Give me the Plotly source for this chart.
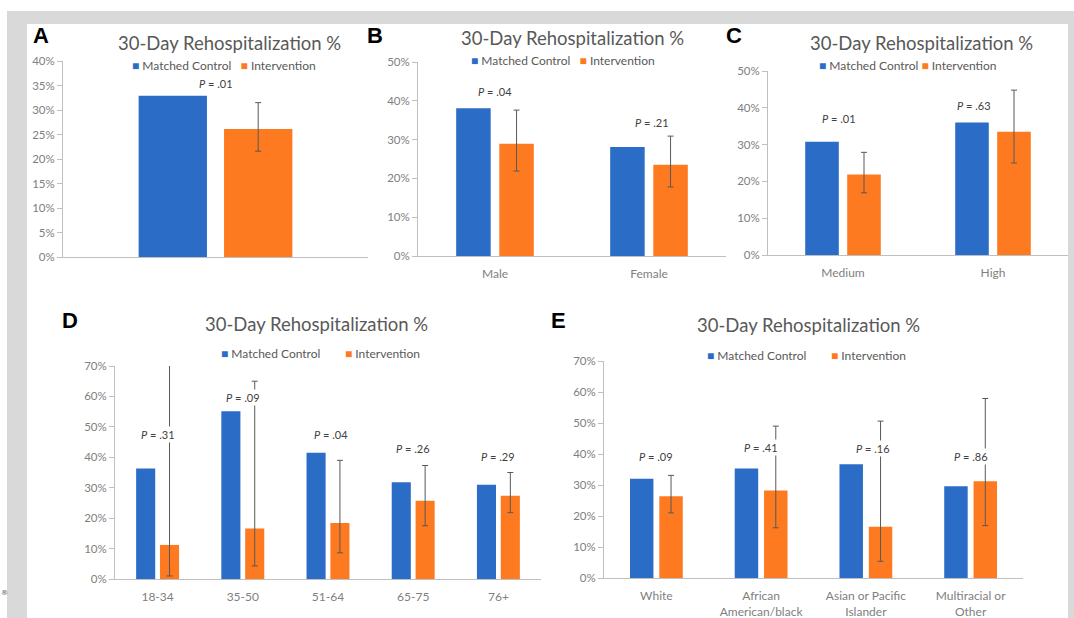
import plotly.graph_objects as go

W, H = 1074, 618

# ---------------- data ----------------
series_names = ["Matched Control", "Intervention"]

a_cats = ["All patients"]
a_control = [32.9]
a_interv = [26.1]
a_err_hi = [31.5]
a_err_lo = [21.6]
a_p = [".01"]

b_cats = ["Male", "Female"]
b_control = [38.1, 28.1]
b_interv = [28.9, 23.5]
b_err_hi = [37.6, 30.9]
b_err_lo = [21.9, 17.8]
b_p = [".04", ".21"]

c_cats = ["Medium", "High"]
c_control = [30.8, 36.0]
c_interv = [21.9, 33.5]
c_err_hi = [27.9, 44.8]
c_err_lo = [16.9, 25.0]
c_p = [".01", ".63"]

d_cats = ["18-34", "35-50", "51-64", "65-75", "76+"]
d_control = [36.3, 55.1, 41.5, 31.8, 31.0]
d_interv = [11.2, 16.6, 18.4, 25.7, 27.4]
d_err_hi = [75.0, 65.0, 39.0, 37.3, 35.0]
d_err_lo = [1.0, 4.3, 8.6, 17.5, 21.8]
d_p = [".31", ".09", ".04", ".26", ".29"]

e_cats = ["White", "African<br>American/black", "Asian or Pacific<br>Islander", "Multiracial or<br>Other"]
e_control = [32.0, 35.3, 36.7, 29.6]
e_interv = [26.4, 28.2, 16.5, 31.2]
e_err_hi = [33.1, 49.0, 50.6, 57.9]
e_err_lo = [21.0, 16.2, 5.4, 16.9]
e_p = [".09", ".41", ".16", ".86"]

title_text = "30-Day Rehospitalization %"

# ---------------- style / layout ----------------
BLUE = "#2b6cc6"
ORANGE = "#fd7a20"
AXIS = "#bfbfbf"
TICKC = "#808080"
TXT = "#595959"
FONT = "Lato"

panels = [
    dict(letter="A", cats=a_cats, ctl=a_control, itv=a_interv, hi=a_err_hi, lo=a_err_lo, p=a_p,
         xd=(63, 368), yd=(61, 257), ymax=40, dtick=5, title=(229, 43), legend=(224, 65),
         lpos=(41, 35), py=[35.5], pdx=[0], gap=3, showx=False),
    dict(letter="B", cats=b_cats, ctl=b_control, itv=b_interv, hi=b_err_hi, lo=b_err_lo, p=b_p,
         xd=(418, 726), yd=(62, 256), ymax=50, dtick=10, title=(572, 38), legend=(563, 61),
         lpos=(375, 35), py=[42.5, 34.3], pdx=[0, 0.02], gap=3, showx=True),
    dict(letter="C", cats=c_cats, ctl=c_control, itv=c_interv, hi=c_err_hi, lo=c_err_lo, p=c_p,
         xd=(768, 1068), yd=(71, 255), ymax=50, dtick=10, title=(921, 43), legend=(908, 66),
         lpos=(734, 35), py=[37.2, 40.5], pdx=[-0.03, -0.13], gap=1, showx=True),
    dict(letter="D", cats=d_cats, ctl=d_control, itv=d_interv, hi=d_err_hi, lo=d_err_lo, p=d_p,
         xd=(115, 541), yd=(366, 579), ymax=70, dtick=10, title=(316, 324), legend=(320, 353),
         lpos=(70, 320), py=[47.4, 59.6, 47.4, 42.9, 40.4], pdx=[0, 0, 0.04, 0, 0], gap=8, showx=True),
    dict(letter="E", cats=e_cats, ctl=e_control, itv=e_interv, hi=e_err_hi, lo=e_err_lo, p=e_p,
         xd=(604, 1023), yd=(361, 578), ymax=70, dtick=10, title=(808, 325), legend=(806, 355),
         lpos=(558, 320), py=[39.3, 42.0, 41.8, 39.3], pdx=[0, 0, 0.07, 0], gap=8, showx=True),
]

fig = go.Figure()
layout = dict(
    width=W, height=H, margin=dict(l=0, r=0, t=0, b=0, pad=0), autosize=False,
    paper_bgcolor="white", plot_bgcolor="white",
    barmode="group", bargap=0.44, bargroupgap=0.2,
    showlegend=False, font=dict(family=FONT, color=TICKC),
)
annotations = []
shapes = []


def px_x(x):
    return x / W


def px_y(y):
    return 1 - y / H


for i, pnl in enumerate(panels, start=1):
    xa = "x" if i == 1 else f"x{i}"
    ya = "y" if i == 1 else f"y{i}"
    xkey = "xaxis" if i == 1 else f"xaxis{i}"
    ykey = "yaxis" if i == 1 else f"yaxis{i}"

    fig.add_trace(go.Bar(
        x=pnl["cats"], y=pnl["ctl"], name=series_names[0], marker=dict(color=BLUE, line=dict(width=0)),
        xaxis=xa, yaxis=ya, hoverinfo="skip"))
    fig.add_trace(go.Bar(
        x=pnl["cats"], y=pnl["itv"], name=series_names[1], marker=dict(color=ORANGE, line=dict(width=0)),
        xaxis=xa, yaxis=ya, hoverinfo="skip",
        error_y=dict(type="data", symmetric=False,
                     array=[h - v for h, v in zip(pnl["hi"], pnl["itv"])],
                     arrayminus=[v - l for l, v in zip(pnl["lo"], pnl["itv"])],
                     color="#595959", thickness=1, width=3)))

    x0, x1 = pnl["xd"]
    ytop, ybot = pnl["yd"]
    layout[xkey] = dict(
        domain=[px_x(x0), px_x(x1)], anchor=ya, showline=True, linecolor=AXIS, linewidth=1,
        ticks="", showgrid=False, zeroline=False, showticklabels=pnl["showx"], automargin=False,
        tickfont=dict(family=FONT, size=12, color=TICKC), ticklabelstandoff=7, fixedrange=True)
    layout[ykey] = dict(
        domain=[px_y(ybot), px_y(ytop)], anchor=xa, range=[0, pnl["ymax"]], dtick=pnl["dtick"],
        tick0=0, ticksuffix="%", showline=True, linecolor=AXIS, linewidth=1, automargin=False,
        ticks="outside", ticklen=5, tickcolor=AXIS, showgrid=False, zeroline=False,
        tickfont=dict(family=FONT, size=11.5, color=TICKC), fixedrange=True)

    tx, ty = pnl["title"]
    annotations.append(dict(text=title_text, x=px_x(tx), y=px_y(ty), xref="paper", yref="paper",
                            showarrow=False, xanchor="center", yanchor="middle",
                            font=dict(family=FONT, size=18.5, color=TXT)))
    lx, ly = pnl["legend"]
    sp = "\u00a0" * pnl["gap"]
    leg = (f"<span style='color:{BLUE}'>■</span>\u00a0{series_names[0]}{sp}"
           f"<span style='color:{ORANGE}'>■</span>\u00a0{series_names[1]}")
    annotations.append(dict(text=leg, x=px_x(lx), y=px_y(ly), xref="paper", yref="paper",
                            showarrow=False, xanchor="center", yanchor="middle",
                            font=dict(family=FONT, size=12, color=TXT)))
    ax_, ay_ = pnl["lpos"]
    annotations.append(dict(text=f"<b>{pnl['letter']}</b>", x=px_x(ax_), y=px_y(ay_), xref="paper",
                            yref="paper", showarrow=False, xanchor="center", yanchor="middle",
                            font=dict(family="Liberation Sans", size=22, color="black")))
    for k, pv in enumerate(pnl["p"]):
        annotations.append(dict(text=f"<i>P</i> = {pv}", x=k + pnl["pdx"][k], y=pnl["py"][k],
                                xref=xa, yref=ya, showarrow=False, xanchor="center",
                                yanchor="middle", bgcolor="white", borderpad=1,
                                font=dict(family=FONT, size=11, color="#404040")))

# grey frame around the figure
GREY = "#d9d9d9"
for (sx0, sy0, sx1, sy1) in [(7, 11, 1074, 24), (7, 11, 27, 618), (1068, 11, 1074, 618)]:
    shapes.append(dict(type="rect", xref="paper", yref="paper", x0=px_x(sx0), x1=px_x(sx1),
                       y0=px_y(sy1), y1=px_y(sy0), fillcolor=GREY, line=dict(width=0), layer="below"))

annotations.append(dict(text="®", x=px_x(4), y=px_y(593), xref="paper", yref="paper", showarrow=False,
                        xanchor="center", yanchor="middle", font=dict(family="DejaVu Sans", size=7, color="#555")))

layout["annotations"] = annotations
layout["shapes"] = shapes
fig.update_layout(**layout)
fig.write_html("out.html", config={"displayModeBar": False},
               post_script="document.body.style.margin='0';document.body.style.overflow='hidden';")
